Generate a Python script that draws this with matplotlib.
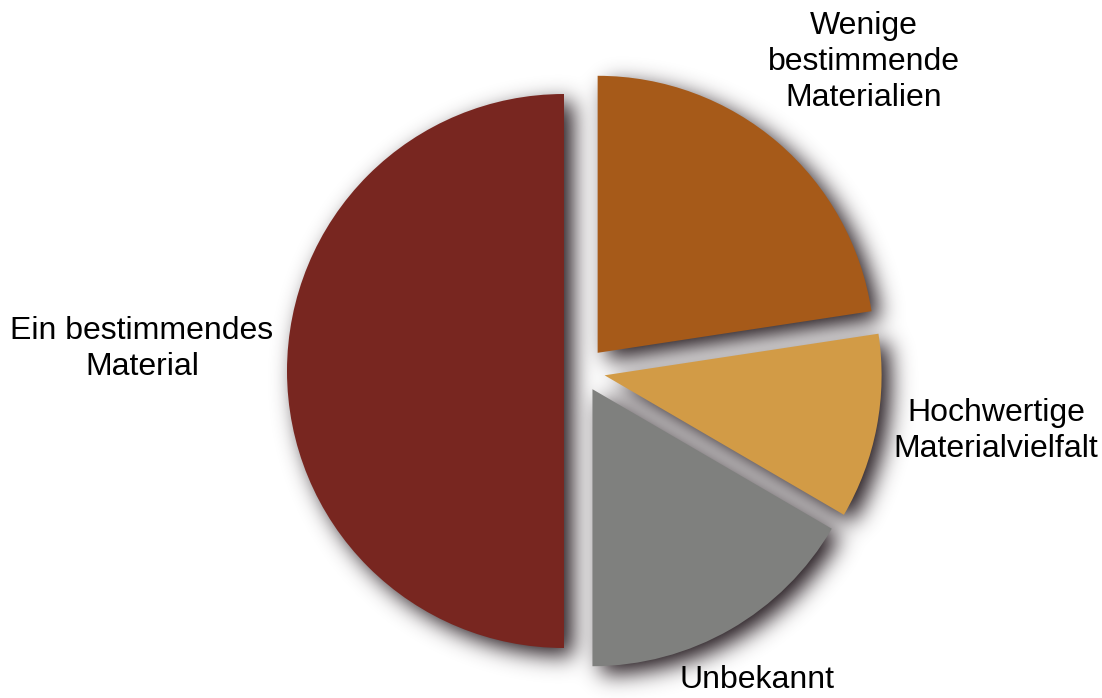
import numpy as np
import matplotlib
matplotlib.use("Agg")
import matplotlib.pyplot as plt

# data (shares in %), clockwise from 12 o'clock
labels = ["Wenige\nbestimmende\nMaterialien", "Hochwertige\nMaterialvielfalt",
          "Unbekannt", "Ein bestimmendes\nMaterial"]
shares = [22.6, 10.8, 16.6, 50.0]
colors = ["#a65a19", "#d29b46", "#7f807e", "#782620"]

W, H = 1102, 698
CENTER = (582, H - 371)
RADIUS = 277
EXPLODE = [24, 23, 21, 18]          # px offsets of the slices
LABEL_POS = [(864, H - 62), (996, H - 431), (757, H - 680), (142, H - 349)]

plt.rcParams["font.family"] = ["Liberation Sans", "DejaVu Sans"]

fig = plt.figure(figsize=(W / 100, H / 100), dpi=100)
ax = fig.add_axes([0, 0, 1, 1])
wedges, _ = ax.pie(shares, colors=colors, startangle=90, counterclock=False,
                   explode=EXPLODE, center=CENTER, radius=RADIUS,
                   wedgeprops=dict(linewidth=0, zorder=3))
ax.set_xlim(0, W)
ax.set_ylim(0, H)
ax.set_aspect("equal")
ax.axis("off")

# soft drop shadow: rasterise wedge masks, blur, draw behind the slices
xs = np.arange(W) + 0.5
ys = np.arange(H) + 0.5
X, Y = np.meshgrid(xs, ys)
pts = np.column_stack([X.ravel(), Y.ravel()])
mask = np.zeros(W * H, dtype=float)
for w in wedges:
    path = w.get_patch_transform().transform_path(w.get_path())
    mask[path.contains_points(pts)] = 1.0
mask = mask.reshape(H, W)

# shift (right / down)
shift_x, shift_y = 9, 8
mask = np.roll(mask, shift_x, axis=1)
mask = np.roll(mask, -shift_y, axis=0)

sigma = 11.0
k = np.arange(-int(3 * sigma), int(3 * sigma) + 1)
kern = np.exp(-0.5 * (k / sigma) ** 2)
kern /= kern.sum()
blur = np.apply_along_axis(lambda r: np.convolve(r, kern, mode="same"), 1, mask)
blur = np.apply_along_axis(lambda c: np.convolve(c, kern, mode="same"), 0, blur)

shadow = np.zeros((H, W, 4))
shadow[..., 0] = 0.17
shadow[..., 1] = 0.13
shadow[..., 2] = 0.15
shadow[..., 3] = np.clip(blur * 1.05, 0, 1)
ax.imshow(shadow, extent=(0, W, 0, H), origin="lower", zorder=1,
          interpolation="bilinear", aspect="auto")
ax.set_xlim(0, W)
ax.set_ylim(0, H)

for lab, (lx, ly) in zip(labels, LABEL_POS):
    ax.text(lx, ly, lab, ha="center", va="center", fontsize=23,
            linespacing=1.27, color="black", zorder=5)

fig.savefig("out.png", dpi=100)
